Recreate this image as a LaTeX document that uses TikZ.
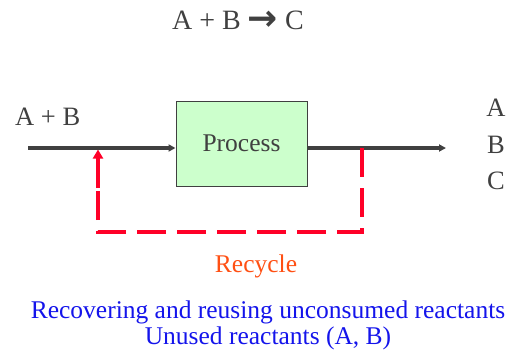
\documentclass[tikz,border=0pt]{standalone}
\usepackage{fontspec}
\setmainfont{Liberation Serif}
\newfontfamily\arrowfont{DejaVu Sans}
\usetikzlibrary{arrows.meta}
\definecolor{boxfill}{RGB}{204,255,204}
\definecolor{flow}{RGB}{64,64,64}
\definecolor{recred}{RGB}{255,0,40}
\definecolor{recorange}{RGB}{255,80,20}
\definecolor{noteblue}{RGB}{20,20,235}
\definecolor{txt}{RGB}{64,64,64}
\tikzset{
  flowline/.style={draw=flow, line width=3.2pt, -{Triangle[length=7pt,width=7pt]}},
  recline/.style={draw=recred, line width=3.2pt, dash pattern=on 29pt off 11pt},
  label/.style={text=txt, inner sep=0pt, font=\fontsize{26.5}{30}\selectfont},
  procbox/.style={draw=flow, line width=1pt, fill=boxfill, minimum width=131pt, minimum height=85pt, inner sep=0pt, text=txt, font=\fontsize{25.5}{30}\selectfont},
  note/.style={text=noteblue, inner sep=0pt, font=\fontsize{25.5}{30}\selectfont, align=center}
}
\begin{document}
\begin{tikzpicture}[x=1pt,y=-1pt]
\useasboundingbox (0,0) rectangle (509,356);
\node[label, font=\fontsize{28}{32}\selectfont] (eq) at (238,21) {A + B {\arrowfont\bfseries\fontsize{36}{36}\selectfont\raisebox{-1pt}{\symbol{"2192}}} C};
\node[label, anchor=base west] (ab) at (15,125) {A + B};
\node[procbox] (proc) at (241.5,143.5) {Process};
\node[label] (oa) at (496,108) {A};
\node[label] (ob) at (496,145) {B};
\node[label] (oc) at (496,181) {C};
\coordinate (in) at (28,148);
\coordinate (out) at (446,148);
\coordinate (mix) at (98,148);
\coordinate (split) at (362,148);
\coordinate (br) at (362,232);
\coordinate (bl) at (98,232);
\draw[flowline] (in) -- (in -| proc.west);
\draw[flowline] (out -| proc.east) -- (out);
\draw[recline] (split) -- (br) -- (bl) -- ([yshift=-14pt]mix);
\draw[draw=recred, line width=3.2pt, -{Triangle[length=9pt,width=10pt]}] ([yshift=-40pt]mix) -- ([yshift=-1.5pt]mix);
\node[text=recorange, inner sep=0pt, font=\fontsize{25.5}{30}\selectfont] (rec) at (256,266) {Recycle};
\node[note] (n1) at (268,312) {Recovering and reusing unconsumed reactants};
\node[note] (n2) at (268,338) {Unused reactants (A, B)};
\end{tikzpicture}
\end{document}
